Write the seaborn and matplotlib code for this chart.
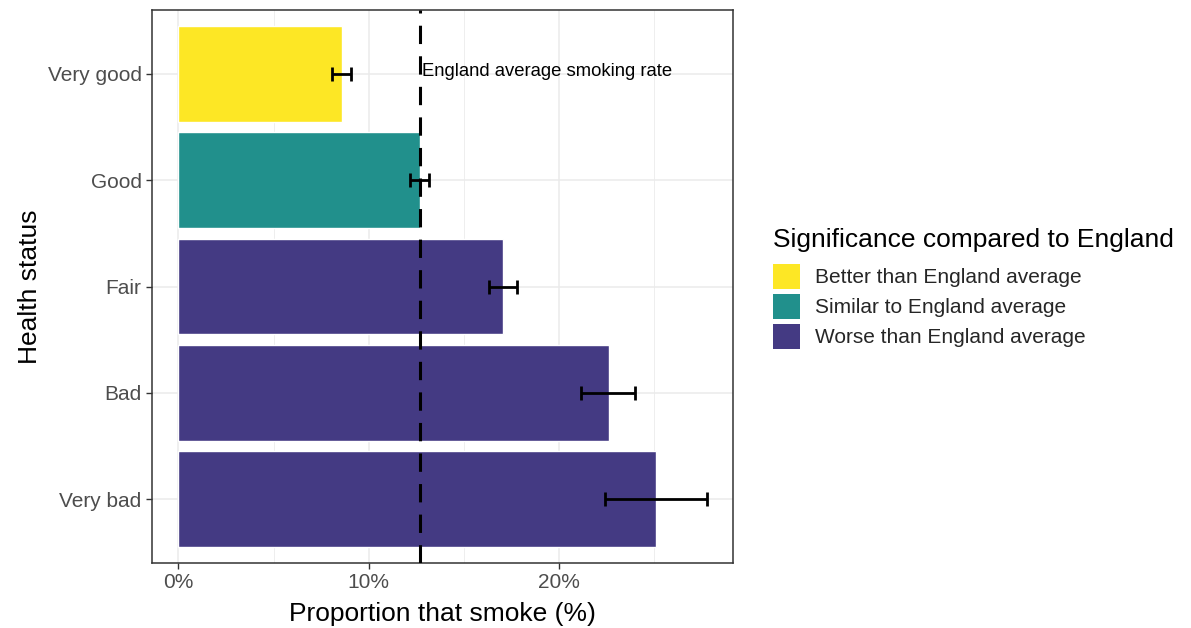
import numpy as np
import pandas as pd
import matplotlib
matplotlib.use("Agg")
import matplotlib.pyplot as plt
import seaborn as sns
from matplotlib.patches import Patch
from matplotlib.ticker import FuncFormatter, MultipleLocator

# data (percent)
health = ["Very good", "Good", "Fair", "Bad", "Very bad"]
smoke_pct = [8.6, 12.67, 17.05, 22.6, 25.1]
ci_low = [8.05, 12.15, 16.3, 21.15, 22.4]
ci_high = [9.05, 13.15, 17.8, 24.0, 27.75]
significance = ["Better than England average", "Similar to England average",
                "Worse than England average", "Worse than England average",
                "Worse than England average"]
england_avg = 12.67

sig_levels = ["Better than England average", "Similar to England average",
              "Worse than England average"]
sig_colors = ["#FDE725", "#21908C", "#443A83"]

df = pd.DataFrame({"health": health, "pct": smoke_pct, "lo": ci_low,
                   "hi": ci_high, "sig": significance})

sns.set_style("white")
plt.rcParams["font.family"] = ["Liberation Sans", "DejaVu Sans"]

fig, ax = plt.subplots(figsize=(11.91, 6.28), dpi=100)
fig.subplots_adjust(left=0.1276, right=0.6155, top=0.984, bottom=0.1035)

# grid like theme_bw
for v in np.arange(0, 30, 5):
    ax.axvline(v, color="#EBEBEB", lw=1.1 if v % 10 == 0 else 0.6, zorder=0)
for i in range(len(health)):
    ax.axhline(i, color="#EBEBEB", lw=1.1, zorder=0)

sns.barplot(data=df, x="pct", y="health", hue="sig", order=health,
            hue_order=sig_levels, palette=sig_colors, dodge=False,
            width=0.9, saturation=1, legend=False, ax=ax, zorder=2)

ypos = np.arange(len(health))
ax.errorbar(x=df["pct"], y=ypos,
            xerr=[df["pct"] - df["lo"], df["hi"] - df["pct"]],
            fmt="none", ecolor="black", elinewidth=2, capsize=5, capthick=2,
            zorder=4)

ax.axvline(england_avg, color="black", lw=2.2, linestyle=(0, (6, 4)), zorder=5)
ax.text(england_avg + 0.15, -0.02, "England average smoking rate",
        fontsize=13.3, va="center", ha="left", color="black")

ax.set_xlim(-1.39, 29.14)
ax.set_ylim(4.6, -0.6)
ax.xaxis.set_major_locator(MultipleLocator(10))
ax.xaxis.set_major_formatter(FuncFormatter(lambda v, p: f"{v:.0f}%"))

ax.set_xlabel("Proportion that smoke (%)", fontsize=19, color="black", labelpad=7)
ax.set_ylabel("Health status", fontsize=19, color="black", labelpad=4)
ax.tick_params(axis="both", labelsize=15, labelcolor="#4D4D4D", length=4,
               width=1, color="#333333", left=True, bottom=True, pad=3.5)
for s in ax.spines.values():
    s.set_color("#333333")
    s.set_linewidth(1.1)

# legend title drawn separately so the gap to the keys can match
fig.text(773 / 1191, 1 - 240 / 628, "Significance compared to England",
         fontsize=19, va="center", ha="left", color="black")
handles = [Patch(facecolor=c, edgecolor="none") for c in sig_colors]
leg = fig.legend(handles, sig_levels, loc="upper left",
                 bbox_to_anchor=(773 / 1191, 1 - 264 / 628), frameon=False,
                 fontsize=15, handlelength=1.3, handleheight=1.45,
                 handletextpad=0.7, labelspacing=0.25,
                 borderpad=0, borderaxespad=0)

fig.savefig("out.png", dpi=100)
